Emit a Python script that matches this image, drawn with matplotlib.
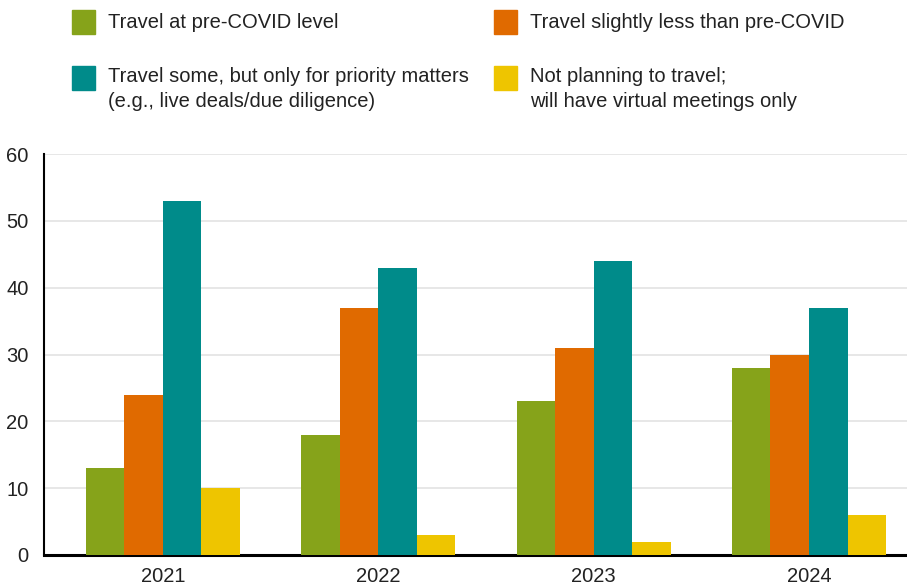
import numpy as np
import matplotlib.pyplot as plt
from matplotlib.patches import Rectangle

plt.rcParams['font.family'] = ['Liberation Sans', 'DejaVu Sans']

years = ['2021', '2022', '2023', '2024']
series_names = ['Travel at pre-COVID level',
                'Travel slightly less than pre-COVID',
                'Travel some, but only for priority matters\n(e.g., live deals/due diligence)',
                'Not planning to travel;\nwill have virtual meetings only']
pre_covid = [13, 18, 23, 28]
slightly_less = [24, 37, 31, 30]
priority_only = [53, 43, 44, 37]
no_travel = [10, 3, 2, 6]
colors = ['#86A31A', '#E06A00', '#008B8A', '#EEC500']

fig = plt.figure(figsize=(9.07, 5.85), dpi=100)
ax = fig.add_axes([44/907, 30/585, 1 - 44/907, (555-154)/585])

x = np.arange(len(years))
w = 0.179
allvals = [pre_covid, slightly_less, priority_only, no_travel]
for i, vals in enumerate(allvals):
    ax.bar(x + (i - 1.5) * w, vals, width=w, color=colors[i], zorder=3)

ax.set_xlim(-0.552, 3.455)
ax.set_ylim(0, 60)
ax.set_yticks(range(0, 61, 10))
ax.set_xticks(x)
ax.set_xticklabels(years)
ax.tick_params(length=0, labelsize=14.5, colors='#222222')
ax.tick_params(axis='y', pad=11)
ax.tick_params(axis='x', pad=9)
ax.grid(axis='y', color='#e3e3e3', linewidth=1.2, zorder=0)
for s in ['top', 'right']:
    ax.spines[s].set_visible(False)
ax.spines['left'].set_linewidth(1.5)
ax.spines['bottom'].set_linewidth(2.2)

# legend drawn by hand, two columns
pos = [(72, 10), (494, 10), (72, 66), (494, 66)]
for i, (px, py) in enumerate(pos):
    fig.patches.append(Rectangle((px/907, 1 - (py+24)/585), 23/907, 24/585,
                                 transform=fig.transFigure, color=colors[i]))
    if '\n' in series_names[i]:
        fig.text((px+36)/907, 1 - (py+1)/585, series_names[i], fontsize=14.5,
                 color='#222222', va='top', linespacing=1.38)
    else:
        fig.text((px+36)/907, 1 - (py+12)/585, series_names[i], fontsize=14.5,
                 color='#222222', va='center')

fig.savefig('out.png', dpi=100)
